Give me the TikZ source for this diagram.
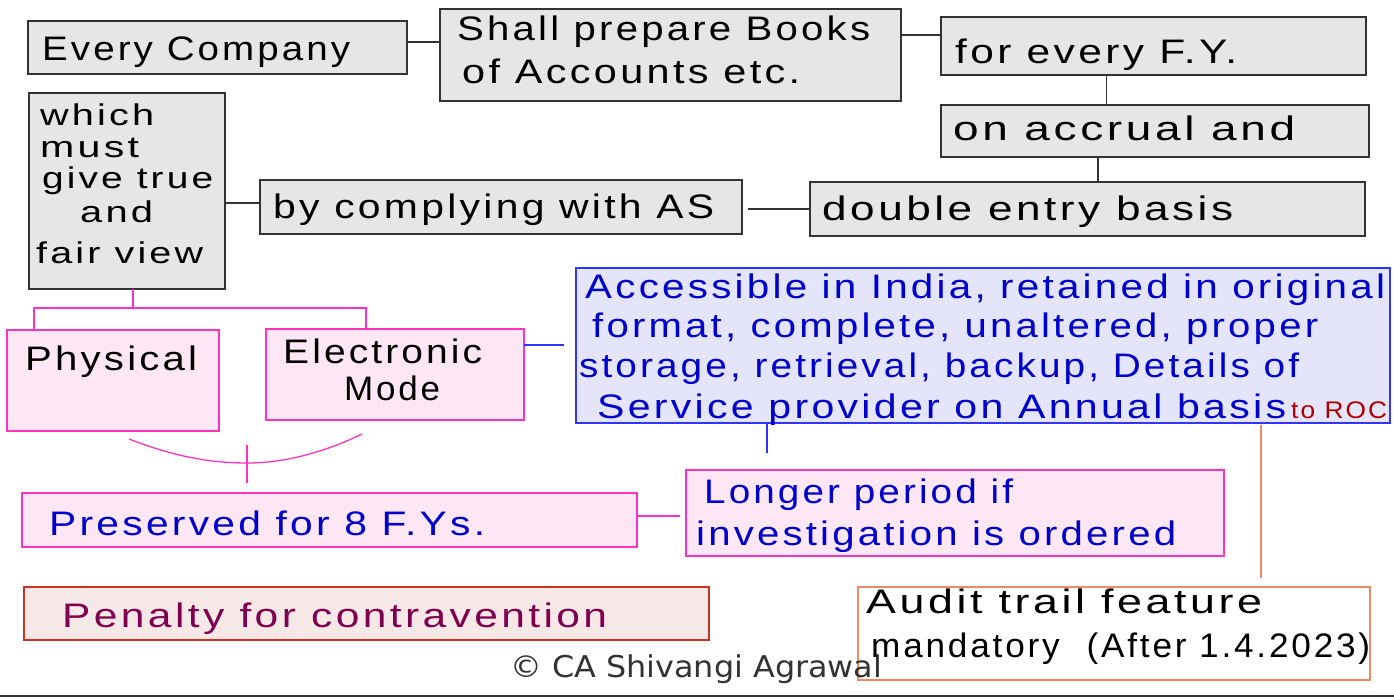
\documentclass[tikz,border=0pt]{standalone}
\usepackage{fontspec}
\usepackage{graphicx}
\setmainfont{Liberation Sans}
\newfontfamily\hand[LetterSpace=8]{Liberation Sans}
\newfontfamily\copyfont{DejaVu Sans}
\definecolor{gfill}{HTML}{E6E6E6}
\definecolor{gdraw}{HTML}{333333}
\definecolor{pfill}{HTML}{FDE7F4}
\definecolor{pdraw}{HTML}{FF33BB}
\definecolor{bfill}{HTML}{E4E4FA}
\definecolor{bdraw}{HTML}{3333FF}
\definecolor{btext}{HTML}{0000CC}
\definecolor{rfill}{HTML}{F7E8E8}
\definecolor{rdraw}{HTML}{CC3322}
\definecolor{mtext}{HTML}{800050}
\definecolor{odraw}{HTML}{F08866}
\definecolor{roc}{HTML}{AA0000}
\newsavebox\hwbox
\newcommand\fitw[2]{\sbox\hwbox{#2}\pgfmathsetmacro\hwsx{#1/\the\wd\hwbox}\scalebox{\hwsx}[1]{\usebox\hwbox}}
\begin{document}
\begin{tikzpicture}[x=1pt,y=-1pt,
  bx/.style={draw, line width=1.6pt, anchor=north west, inner sep=0pt, outer sep=0pt},
  gbox/.style={bx, fill=gfill, draw=gdraw},
  pbox/.style={bx, fill=pfill, draw=pdraw},
  bbox/.style={bx, fill=bfill, draw=bdraw, line width=1.4pt},
  rbox/.style={bx, fill=rfill, draw=rdraw},
  obox/.style={bx, fill=white, draw=odraw},
  hw/.style={anchor=base west, inner sep=0pt, font=\hand\fontsize{34}{38}\selectfont},
  hws/.style={hw, font=\hand\fontsize{30}{34}\selectfont},
  gl/.style={draw=gdraw, line width=1.3pt},
  pl/.style={draw=pdraw, line width=1.3pt},
  bl/.style={draw=bdraw, line width=1.5pt},
  ol/.style={draw=odraw, line width=1.2pt},
]
\useasboundingbox (0,0) rectangle (1394,699);
% boxes
\node[gbox, minimum width=379pt, minimum height=53pt] (every) at (28,21) {};
\node[gbox, minimum width=461pt, minimum height=92pt] (shall) at (440,9) {};
\node[gbox, minimum width=425pt, minimum height=58pt] (fory) at (941,17) {};
\node[gbox, minimum width=428pt, minimum height=52pt] (accrual) at (941,105) {};
\node[gbox, minimum width=555pt, minimum height=54pt] (double) at (810,182) {};
\node[gbox, minimum width=196pt, minimum height=196pt] (which) at (29,93) {};
\node[gbox, minimum width=482pt, minimum height=54pt] (comply) at (260,180) {};
\node[bbox, minimum width=814pt, minimum height=155pt] (access) at (576,268) {};
\node[pbox, minimum width=212pt, minimum height=101pt] (phys) at (7,330) {};
\node[pbox, minimum width=258pt, minimum height=91pt] (elec) at (266,329) {};
\node[pbox, minimum width=615pt, minimum height=54pt] (pres) at (22,493) {};
\node[pbox, minimum width=538pt, minimum height=86pt] (longer) at (686,470) {};
\node[rbox, minimum width=685pt, minimum height=53pt] (penalty) at (24,587) {};
\node[obox, minimum width=512pt, minimum height=93pt] (audit) at (858,587) {};
% texts
\node[hw] (t1) at (42,60) {\fitw{308}{Every Company}};
\node[hw] (t2) at (457,40) {\fitw{413}{Shall prepare Books}};
\node[hw] (t3) at (462,83) {\fitw{338}{of Accounts etc.}};
\node[hw] (t4) at (955,63) {\fitw{282}{for every F.Y.}};
\node[hw] (t5) at (953,140) {\fitw{342}{on accrual and}};
\node[hw] (t6) at (822,220) {\fitw{411}{double entry basis}};
\node[hws] (t7a) at (40,125) {\fitw{114}{which}};
\node[hws] (t7b) at (40,157) {\fitw{99}{must}};
\node[hws] (t7c) at (42,188) {\fitw{171}{give true}};
\node[hws] (t7d) at (80,222) {\fitw{73}{and}};
\node[hws] (t7e) at (36,263) {\fitw{167}{fair view}};
\node[hw] (t8) at (273,218) {\fitw{441}{by complying with AS}};
\node[hw, text=btext] (t9a) at (585,298) {\fitw{800}{Accessible in India, retained in original}};
\node[hw, text=btext] (t9b) at (592,337) {\fitw{726}{format, complete, unaltered, proper}};
\node[hw, text=btext] (t9c) at (579,377) {\fitw{720}{storage, retrieval, backup, Details of}};
\node[hw, text=btext] (t9d) at (597,418) {\fitw{689}{Service provider on Annual basis}};
\node[hw, text=roc, font=\hand\fontsize{24}{28}\selectfont] (t9e) at (1291,418) {\fitw{96}{to ROC}};
\node[hw] (t10) at (25,370) {\fitw{172}{Physical}};
\node[hw] (t11a) at (283,363) {\fitw{199}{Electronic}};
\node[hw] (t11b) at (344,400) {\fitw{96}{Mode}};
\node[hw, text=btext] (t12) at (49,535) {\fitw{436}{Preserved for 8 F.Ys.}};
\node[hw, text=btext] (t13a) at (704,503) {\fitw{309}{Longer period if}};
\node[hw, text=btext] (t13b) at (696,545) {\fitw{480}{investigation is ordered}};
\node[hw, text=mtext] (t14) at (62,627) {\fitw{545}{Penalty for contravention}};
\node[hw] (t15a) at (866,613) {\fitw{396}{Audit trail feature}};
\node[hw] (t15b) at (871,657) {\fitw{499}{mandatory\hspace{26pt}(After 1.4.2023)}};
\node[anchor=base west, inner sep=0pt, text=gdraw, font=\copyfont\fontsize{30}{34}\selectfont] (copy) at (510,677) {\fitw{372}{\textcopyright{} CA Shivangi Agrawal}};
% connectors
\draw[gl] ([yshift=5.5pt]every.east) -- ([yshift=5.5pt]every.east -| shall.west);
\draw[gl] ([yshift=11pt]fory.west) -- ([yshift=11pt]fory.west -| shall.east);
\draw[gl] ([xshift=-47pt]fory.south) -- ([xshift=-47pt]fory.south |- accrual.north);
\draw[gl] ([xshift=-57pt]accrual.south) -- ([xshift=-57pt]accrual.south |- double.north);
\draw[gl, shorten >=6pt] (double.west) -- (double.west -| comply.east);
\draw[gl] ([yshift=4pt]comply.west) -- ([yshift=4pt]comply.west -| which.east);
\coordinate (bus) at (133,308);
\draw[pl] ([xshift=6pt]which.south) -- (bus);
\draw[pl] ([xshift=-79pt]phys.north) |- (bus) -| ([xshift=-29pt]elec.north);
\draw[bl, shorten >=12pt] ([yshift=29.5pt]elec.east) -- ([yshift=29.5pt]elec.east -| access.west);
\coordinate (c1) at (129,439);
\coordinate (cb) at (247,463);
\coordinate (c3) at (362,434);
\coordinate (ct) at (247,445);
\draw[pl] (c1) .. controls (175,457) and (212,463) .. (cb) .. controls (285,463) and (325,452) .. (c3);
\draw[pl, shorten >=10pt] (ct) -- (ct |- pres.north);
\draw[pl, shorten >=6pt] ([yshift=4pt]pres.east) -- ([yshift=4pt]pres.east -| longer.west);
\draw[bl] ([xshift=-216pt]access.south) -- ++(0,-30pt);
\draw[ol, shorten <=2pt, shorten >=9pt] ([xshift=278pt]access.south) -- ([xshift=278pt]access.south |- audit.north);
\coordinate (bl0) at (0,696);
\coordinate (bl1) at (1394,696);
\draw[gdraw, line width=2pt] (bl0) -- (bl1);
\end{tikzpicture}
\end{document}
